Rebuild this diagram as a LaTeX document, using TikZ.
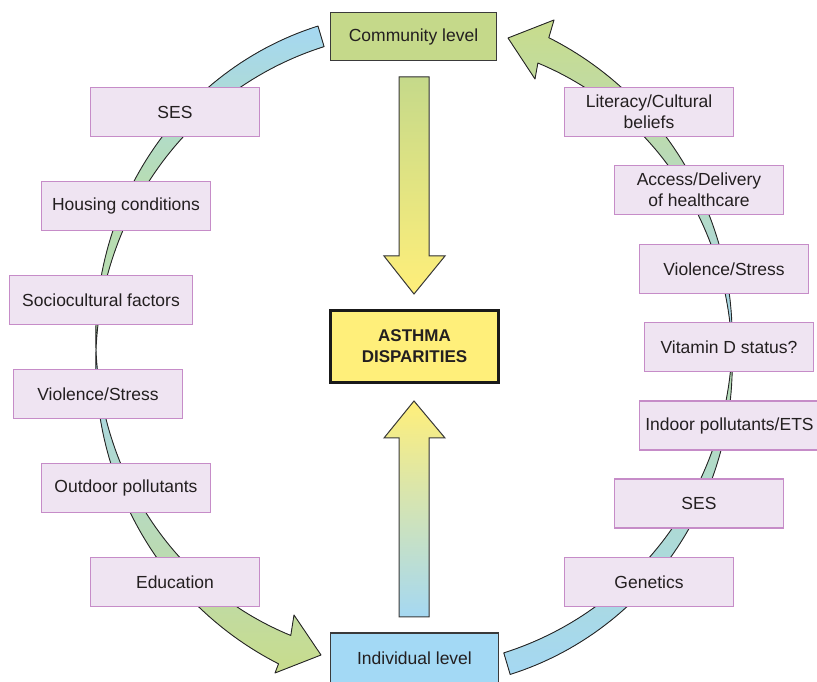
\documentclass[tikz,border=0pt]{standalone}
\usepackage{fontspec}
\setmainfont{Liberation Sans}
\definecolor{ribblue}{HTML}{A5D8F2}
\definecolor{ribgreen}{HTML}{C8DC8C}
\definecolor{ribmint}{HTML}{B8DDB2}
\definecolor{pinkfill}{HTML}{EFE4F2}
\definecolor{pinkline}{HTML}{C68CC8}
\definecolor{commgreen}{HTML}{C5D98A}
\definecolor{indblue}{HTML}{A3D9F5}
\definecolor{asthyellow}{HTML}{FFEF7A}
\definecolor{txt}{HTML}{231F20}
\definecolor{edge}{HTML}{3A3A3A}
\tikzset{
  factor/.style={draw=pinkline, fill=pinkfill, line width=1.2pt, minimum width=169pt,
    minimum height=49pt, inner sep=0pt, align=center,
    font=\fontsize{17.5}{21}\selectfont, text=txt},
  levelbox/.style={draw=edge, line width=1.4pt, minimum width=166pt, minimum height=48pt,
    inner sep=0pt, align=center, font=\fontsize{17.5}{21}\selectfont, text=txt},
  ribbon/.style={draw=black!85, line width=0.9pt, line join=round},
  bigarrow/.style={draw=edge, line width=1pt, line join=miter},
}
\begin{document}
\begin{tikzpicture}[x=1pt,y=1pt]
\useasboundingbox (0,0) rectangle (817,682);

% ---- left ribbon: tail piece (top) ----
\filldraw[ribbon, top color=ribblue, bottom color=ribmint, middle color=ribmint]
  plot[domain=107:180, samples=60, variable=\t]
    ({414+318*(1+0.0328*sin((180-\t)*1.2329))*cos(\t)}, {332+328*(1+0.0328*sin((180-\t)*1.2329))*sin(\t)})
  -- plot[domain=180:107, samples=60, variable=\t]
    ({414+318*(1-0.0328*sin((180-\t)*1.2329))*cos(\t)}, {332+328*(1-0.0328*sin((180-\t)*1.2329))*sin(\t)})
  -- cycle;
% ---- left ribbon: arrow piece (bottom) ----
\filldraw[ribbon, top color=ribblue, middle color=ribblue!80!ribmint, bottom color=ribgreen]
  plot[domain=180:246, samples=60, variable=\t]
    ({414+318*(1+0.00071*(\t-180))*cos(\t)}, {332+328*(1+0.00071*(\t-180))*sin(\t)})
  -- (275,9) -- (321,27) -- (294,67)
  -- plot[domain=246:180, samples=60, variable=\t]
    ({414+318*(1-0.00071*(\t-180))*cos(\t)}, {332+328*(1-0.00071*(\t-180))*sin(\t)})
  -- cycle;
% ---- right ribbon: tail piece (bottom) ----
\filldraw[ribbon, bottom color=ribblue, middle color=ribmint, top color=ribmint]
  plot[domain=-73:0, samples=60, variable=\t]
    ({414+318*(1+0.0344*sin(-\t*1.2329))*cos(\t)}, {332+328*(1+0.0344*sin(-\t*1.2329))*sin(\t)})
  -- plot[domain=0:-73, samples=60, variable=\t]
    ({414+318*(1-0.0344*sin(-\t*1.2329))*cos(\t)}, {332+328*(1-0.0344*sin(-\t*1.2329))*sin(\t)})
  -- cycle;
% ---- right ribbon: arrow piece (top) ----
\filldraw[ribbon, bottom color=ribblue, middle color=ribblue, top color=ribgreen]
  plot[domain=0:66, samples=60, variable=\t]
    ({414+318*(1+0.000639*\t)*cos(\t)}, {332+328*(1+0.000639*\t)*sin(\t)})
  -- (554,662) -- (508,644) -- (535,603)
  -- plot[domain=66:0, samples=60, variable=\t]
    ({414+318*(1-0.000639*\t)*cos(\t)}, {332+328*(1-0.000639*\t)*sin(\t)})
  -- cycle;

% ---- level boxes ----
\node[levelbox, fill=commgreen] (comm) at (413.5,645.5) {Community level};
\node[levelbox, fill=indblue, minimum width=168pt, minimum height=50pt] (indiv) at (414.5,24) {Individual level};
\node[draw=black!90, line width=3pt, fill=asthyellow, minimum width=168pt, minimum height=72pt,
      inner sep=0pt, align=center, font=\bfseries\fontsize{17}{21}\selectfont, text=txt]
      (asthma) at (414.5,335.5) {ASTHMA\\DISPARITIES};

% ---- vertical arrows ----
\filldraw[bigarrow, top color=commgreen, bottom color=asthyellow]
  (399,605) -- (429,605) -- (429,426) -- (445,426) -- (414,388) -- (384,426) -- (399,426) -- cycle;
\filldraw[bigarrow, top color=asthyellow, bottom color=ribblue]
  (399,65) -- (429,65) -- (429,244) -- (445,244) -- (414,281) -- (384,244) -- (399,244) -- cycle;

% ---- left factors ----
\node[factor] (lses) at (175,570) {SES};
\node[factor] (lhouse) at (126,476) {Housing conditions};
\node[factor, minimum width=183pt] (lsocio) at (101,382) {Sociocultural factors};
\node[factor] (lviol) at (98,288) {Violence/Stress};
\node[factor] (lout) at (126,194) {Outdoor pollutants};
\node[factor] (ledu) at (175,100) {Education};

% ---- right factors ----
\node[factor] (rlit) at (649,570) {Literacy/Cultural\\beliefs};
\node[factor] (racc) at (699,492) {Access/Delivery\\of healthcare};
\node[factor] (rviol) at (724,413) {Violence/Stress};
\node[factor] (rvit) at (729,335) {Vitamin D status?};
\node[factor, minimum width=180pt] (rind) at (729.5,256.5) {Indoor pollutants/ETS};
\node[factor] (rses) at (699,178.5) {SES};
\node[factor] (rgen) at (649,100) {Genetics};
\end{tikzpicture}
\end{document}
